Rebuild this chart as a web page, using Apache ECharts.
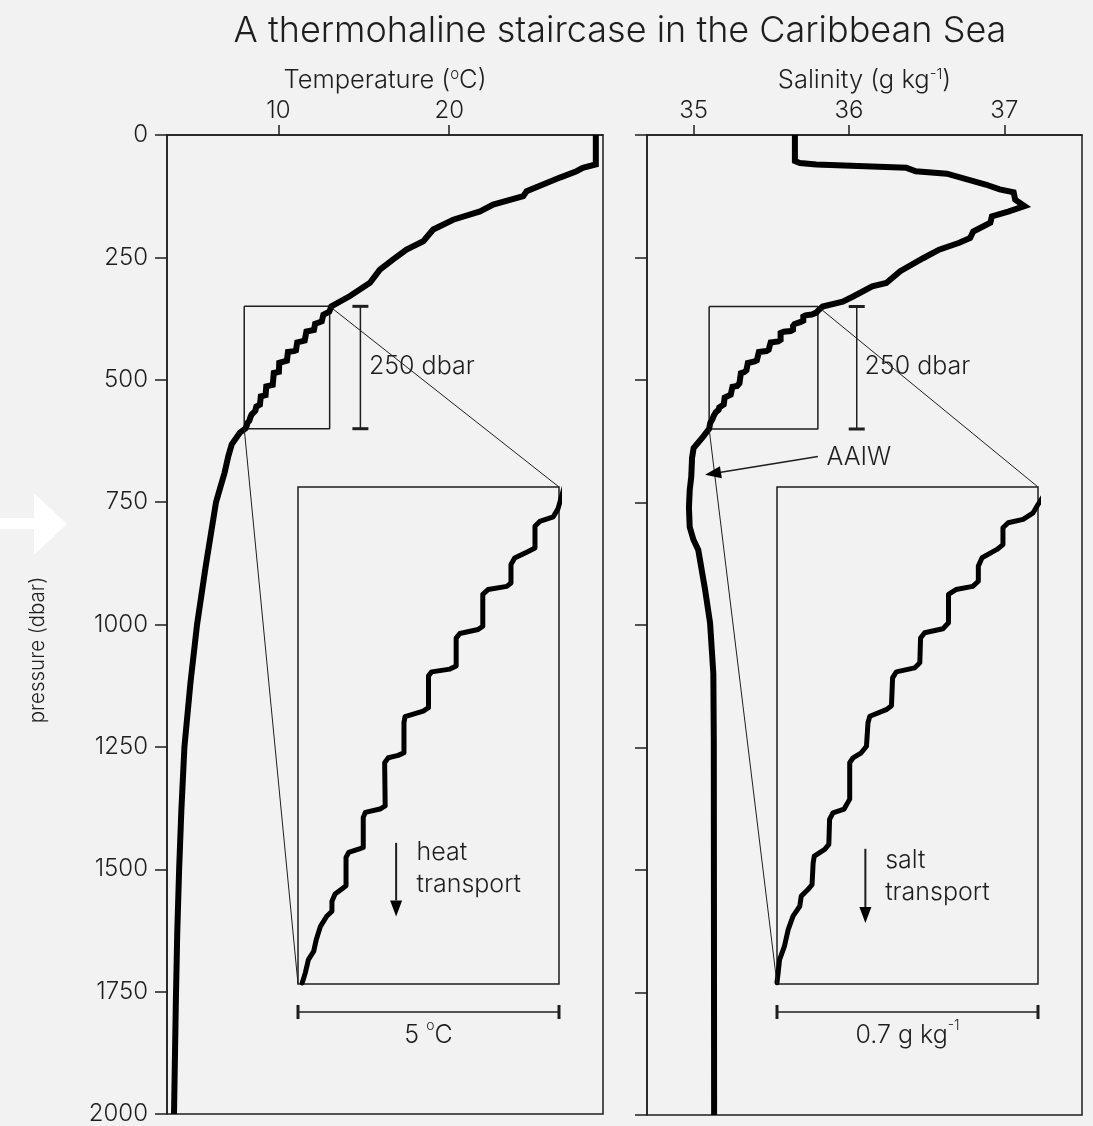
<!DOCTYPE html>
<html><head><meta charset="utf-8">
<script src="https://cdn.jsdelivr.net/npm/echarts@6/dist/echarts.min.js"></script>
<style>html,body{margin:0;padding:0;background:#f2f2f2;}#c{width:1093px;height:1126px;}</style>
</head><body><div id="c"></div>
<script>
const FONT = 'Inter, "Liberation Sans", sans-serif';
const INK = '#1e1e1e';

// ---- tick labels ----
const tempTicks = [10, 20];
const salTicks = [35, 36, 37];
const pressureInterval = 250;

// ---- temperature profile (°C, dbar) ----
const tempUpper = [[28.58,0],[28.58,60],[27.82,67],[27.45,74],[26.48,87],[24.53,115],[24.33,125],[22.57,142],[21.8,156],[20.23,173],[19.06,193],[18.48,217],[17.5,234],[16.72,254],[15.94,275],[15.36,302],[14.19,329]];
const tempStair = [[13.1,350],[12.98,361],[12.89,365],[12.63,367.3],[12.54,369.7],[12.54,380.7],[12.41,382.4],[12.15,385.7],[12.08,389],[12.08,398.3],[12.0,400],[11.64,401.6],[11.54,404],[11.54,420],[11.45,421.7],[11.1,423.7],[11.03,426],[11.03,440],[10.91,441.6],[10.56,443],[10.5,445],[10.5,461],[10.4,462.7],[10.05,465.5],[10.03,468.6],[10.03,483.7],[9.92,485],[9.73,486.2],[9.66,488.7],[9.67,510.4],[9.57,512],[9.29,513.7],[9.25,516.2],[9.25,531.3],[9.16,532.2],[8.97,533.8],[8.92,536.3],[8.92,550.6],[8.84,552.2],[8.71,554.7],[8.65,558.4],[8.65,563.4],[8.55,565.9],[8.43,571],[8.35,577.7],[8.3,583.6],[8.2,587.7],[8.14,594.4],[8.08,599.5]];
const tempDeep = [[7.75,608],[7.27,632],[7.07,656],[6.85,690],[6.6,720],[6.35,750],[5.75,880],[5.24,1000],[4.85,1120],[4.5,1250],[4.32,1380],[4.19,1500],[4.08,1630],[4.0,1767],[3.89,2000]];

// ---- salinity profile (g/kg, dbar) ----
const salUpper = [[35.652,0],[35.652,53],[35.684,57],[35.79,60],[36.37,67],[36.43,74],[36.63,79],[36.88,101],[36.97,111],[37.06,117],[37.07,132],[37.13,145],[37.03,156],[36.92,166],[36.91,179],[36.80,197],[36.78,210],[36.71,220],[36.58,234],[36.48,251],[36.33,278],[36.24,302],[36.15,309],[36.03,329],[35.96,340]];
const salStair = [[35.83,350],[35.8,358.8],[35.787,363],[35.76,366.3],[35.72,368],[35.706,370.5],[35.706,379],[35.69,381.4],[35.65,385.6],[35.64,389.8],[35.64,397.4],[35.625,400],[35.58,401.6],[35.56,404],[35.56,418.3],[35.545,421.3],[35.496,423.3],[35.485,426],[35.483,438.4],[35.469,441],[35.42,443],[35.41,446],[35.407,460],[35.393,462],[35.349,465.3],[35.344,468.6],[35.34,480.4],[35.326,483.7],[35.304,486.2],[35.295,488.7],[35.295,507],[35.28,512],[35.25,513.9],[35.241,517.2],[35.239,529.8],[35.228,532.3],[35.2,535.7],[35.197,539],[35.194,550],[35.183,552.5],[35.165,555.8],[35.161,560.9],[35.143,565.9],[35.13,572.6],[35.12,581],[35.107,587.7],[35.103,594.4],[35.1,599.4]];
const salDeep = [[35.063,615],[35.0,639],[34.99,659],[34.985,697],[34.975,725],[34.97,760],[34.975,800],[34.999,826],[35.03,847],[35.074,928],[35.106,996],[35.127,1099],[35.13,1235],[35.132,2000]];

// ---- zoom windows [xmin, xmax, pmin, pmax] ----
const tempWindow = [8, 13, 350, 600];
const salWindow = [35.1, 35.8, 350, 600];

const boxPts = w => [[w[0],w[2]],[w[1],w[2]],[w[1],w[3]],[w[0],w[3]],[w[0],w[2]]];
const tempProfile = tempUpper.concat(tempStair, tempDeep);
const salProfile = salUpper.concat(salStair, salDeep);

const axLine = {show:true, lineStyle:{color:INK, width:1.5}};
const tick = (len, vals) => Object.assign({show:true, inside:false, length:len, lineStyle:{color:INK, width:1.5}}, vals ? {customValues: vals} : {});
const lbl = {fontFamily:FONT, fontWeight:300, fontSize:24, color:INK, formatter: v => String(v)};
const rich = {n:{fontFamily:FONT, fontWeight:300, fontSize:25.5, color:INK}, s:{fontFamily:FONT, fontWeight:300, fontSize:15, color:INK, verticalAlign:'top', lineHeight:19}};

const gridBase = {show:true, borderColor:INK, borderWidth:1.5, backgroundColor:'transparent', containLabel:false};
const option = {
  backgroundColor:'#f2f2f2',
  animation:false,
  title:{text:'A thermohaline staircase in the Caribbean Sea', left:615, textAlign:'center', top:8,
    textStyle:{fontFamily:FONT, fontWeight:300, fontSize:36, color:INK}},
  grid:[
    Object.assign({left:167, top:135, width:436, height:980}, gridBase),
    Object.assign({left:647, top:135, width:435, height:980}, gridBase),
    Object.assign({left:298, top:487, width:261, height:497}, gridBase),
    Object.assign({left:777, top:487, width:261, height:497}, gridBase)
  ],
  xAxis:[
    {gridIndex:0, type:'value', position:'top', min:3.48, max:29.0,
     name:'{n|Temperature (}{s|o}{n|C)}', nameLocation:'middle', nameGap:42, nameTextStyle:{rich:rich},
     axisLine:axLine, axisTick:tick(10, tempTicks), axisLabel:Object.assign({customValues:tempTicks, margin:12}, lbl), splitLine:{show:false}},
    {gridIndex:1, type:'value', position:'top', min:34.70, max:37.5,
     name:'{n|Salinity (g kg}{s|-1}{n|)}', nameLocation:'middle', nameGap:42, nameTextStyle:{rich:rich},
     axisLine:axLine, axisTick:tick(10, salTicks), axisLabel:Object.assign({customValues:salTicks, margin:12}, lbl), splitLine:{show:false}},
    {gridIndex:2, type:'value', min:tempWindow[0], max:tempWindow[1], show:false},
    {gridIndex:3, type:'value', min:salWindow[0], max:salWindow[1], show:false}
  ],
  yAxis:[
    {gridIndex:0, type:'value', inverse:true, min:0, max:2000, interval:pressureInterval,
     axisLine:axLine, axisTick:tick(12), axisLabel:Object.assign({margin:19}, lbl), splitLine:{show:false}},
    {gridIndex:1, type:'value', inverse:true, min:0, max:2000, interval:pressureInterval,
     axisLine:axLine, axisTick:tick(12), axisLabel:{show:false}, splitLine:{show:false}},
    {gridIndex:2, type:'value', inverse:true, min:tempWindow[2], max:tempWindow[3], show:false},
    {gridIndex:3, type:'value', inverse:true, min:salWindow[2], max:salWindow[3], show:false}
  ],
  series:[
    {type:'line', xAxisIndex:0, yAxisIndex:0, data:boxPts(tempWindow), showSymbol:false, symbol:'none', lineStyle:{color:INK, width:1.5}, z:3, silent:true},
    {type:'line', xAxisIndex:1, yAxisIndex:1, data:boxPts(salWindow), showSymbol:false, symbol:'none', lineStyle:{color:INK, width:1.5}, z:3, silent:true},
    {type:'line', xAxisIndex:0, yAxisIndex:0, data:tempProfile, showSymbol:false, symbol:'none', lineStyle:{color:'#000', width:6, join:'miter'}, z:5},
    {type:'line', xAxisIndex:1, yAxisIndex:1, data:salProfile, showSymbol:false, symbol:'none', lineStyle:{color:'#000', width:6, join:'miter'}, z:5},
    {type:'line', xAxisIndex:2, yAxisIndex:2, data:tempStair, showSymbol:false, symbol:'none', lineStyle:{color:'#000', width:5, join:'round', cap:'round'}, z:5},
    {type:'line', xAxisIndex:3, yAxisIndex:3, data:salStair, showSymbol:false, symbol:'none', lineStyle:{color:'#000', width:5, join:'round', cap:'round'}, z:5}
  ]
};

const chart = echarts.init(document.getElementById('c'));
chart.setOption(option);

// ---- annotations (positions in each panel's data units) ----
const annot = {
  tempBarX: 14.8, salBarX: 36.05, barLabelP: 472, tempBarLabelX: 15.3, salBarLabelX: 36.10,
  heat: {x:9.88, p0:529, p1:566, tx:10.27, tp:526},
  salt: {x:35.337, p0:532, p1:569.3, tx:35.39, tp:530},
  aaiw: {from:[35.80,656], to:[35.074,693.6], tx:35.855, tp:659},
  yName: {x:38, y:650}
};
const P = (i, pt) => chart.convertToPixel({xAxisIndex:i, yAxisIndex:i}, pt);
const g = [];
const line = (a, b, w) => g.push({type:'line', shape:{x1:a[0], y1:a[1], x2:b[0], y2:b[1]}, style:{stroke:INK, lineWidth:w}, z:10, silent:true});
const arrow = (from, tip, len, hw, w) => {
  const dx = tip[0]-from[0], dy = tip[1]-from[1], L = Math.hypot(dx,dy), ux = dx/L, uy = dy/L;
  const base = [tip[0]-ux*len, tip[1]-uy*len];
  line(from, base, w);
  g.push({type:'polygon', shape:{points:[tip,[base[0]-uy*hw, base[1]+ux*hw],[base[0]+uy*hw, base[1]-ux*hw]]}, style:{fill:'#000'}, z:10, silent:true});
};
const text = (pos, str, align, vAlign, richStyle) => g.push({type:'text', x:pos[0], y:pos[1], z:10, silent:true,
  style:Object.assign({text:str, fontFamily:FONT, fontWeight:300, fontSize:25, fill:INK, align:align, verticalAlign:vAlign, lineHeight:32}, richStyle ? {rich:richStyle} : {})});

// connector lines box -> inset
line(P(0,[tempWindow[1],tempWindow[2]]), P(2,[tempWindow[1],tempWindow[2]]), 1);
line(P(0,[tempWindow[0],tempWindow[3]]), P(2,[tempWindow[0],tempWindow[3]]), 1);
line(P(1,[salWindow[1],salWindow[2]]), P(3,[salWindow[1],salWindow[2]]), 1);
line(P(1,[salWindow[0],salWindow[3]]), P(3,[salWindow[0],salWindow[3]]), 1);

// 250 dbar bars
[[0, annot.tempBarX, annot.tempBarLabelX, tempWindow],[1, annot.salBarX, annot.salBarLabelX, salWindow]].forEach(([i, bx, lx, w]) => {
  const a = P(i,[bx,w[2]]), b = P(i,[bx,w[3]]);
  line(a, b, 1.5);
  line([a[0]-8,a[1]],[a[0]+8,a[1]], 3);
  line([b[0]-8,b[1]],[b[0]+8,b[1]], 3);
  text(P(i,[lx, annot.barLabelP]), '250 dbar', 'left', 'middle');
});

// width scale bars under the insets
const richSup = {n:{fontFamily:FONT, fontWeight:300, fontSize:25, fill:INK}, s:{fontFamily:FONT, fontWeight:300, fontSize:14, fill:INK, verticalAlign:'top', lineHeight:20}};
[[2, tempWindow, '{n|5 }{s|o}{n|C}'],[3, salWindow, '{n|0.7 g kg}{s|-1}']].forEach(([i, w, str]) => {
  const a = P(i,[w[0],w[3]]), b = P(i,[w[1],w[3]]);
  const y = a[1] + 28;
  line([a[0],y],[b[0],y], 1.5);
  line([a[0],y-7],[a[0],y+7], 3);
  line([b[0],y-7],[b[0],y+7], 3);
  text([(a[0]+b[0])/2, y+7], str, 'center', 'top', richSup);
});

// transport arrows
arrow(P(2,[annot.heat.x, annot.heat.p0]), P(2,[annot.heat.x, annot.heat.p1]), 16, 6, 2);
text(P(2,[annot.heat.tx, annot.heat.tp]), 'heat\ntransport', 'left', 'top');
arrow(P(3,[annot.salt.x, annot.salt.p0]), P(3,[annot.salt.x, annot.salt.p1]), 16, 6, 2);
text(P(3,[annot.salt.tx, annot.salt.tp]), 'salt\ntransport', 'left', 'top');

// AAIW
arrow(P(1,annot.aaiw.from), P(1,annot.aaiw.to), 16, 6, 1.5);
text(P(1,[annot.aaiw.tx, annot.aaiw.tp]), 'AAIW', 'left', 'middle');

// y-axis title
g.push({type:'text', x:annot.yName.x, y:annot.yName.y, rotation:Math.PI/2, z:10, silent:true,
  style:{text:'pressure (dbar)', fontFamily:FONT, fontWeight:300, fontSize:20.5, fill:INK, align:'center', verticalAlign:'middle'}});

// white arrow at the left edge
g.push({type:'polygon', shape:{points:[[0,518],[34,518],[34,493],[67,524],[34,555],[34,529],[0,529]]}, style:{fill:'#ffffff'}, z:10, silent:true});

chart.setOption({graphic:g});
</script>
</body></html>
